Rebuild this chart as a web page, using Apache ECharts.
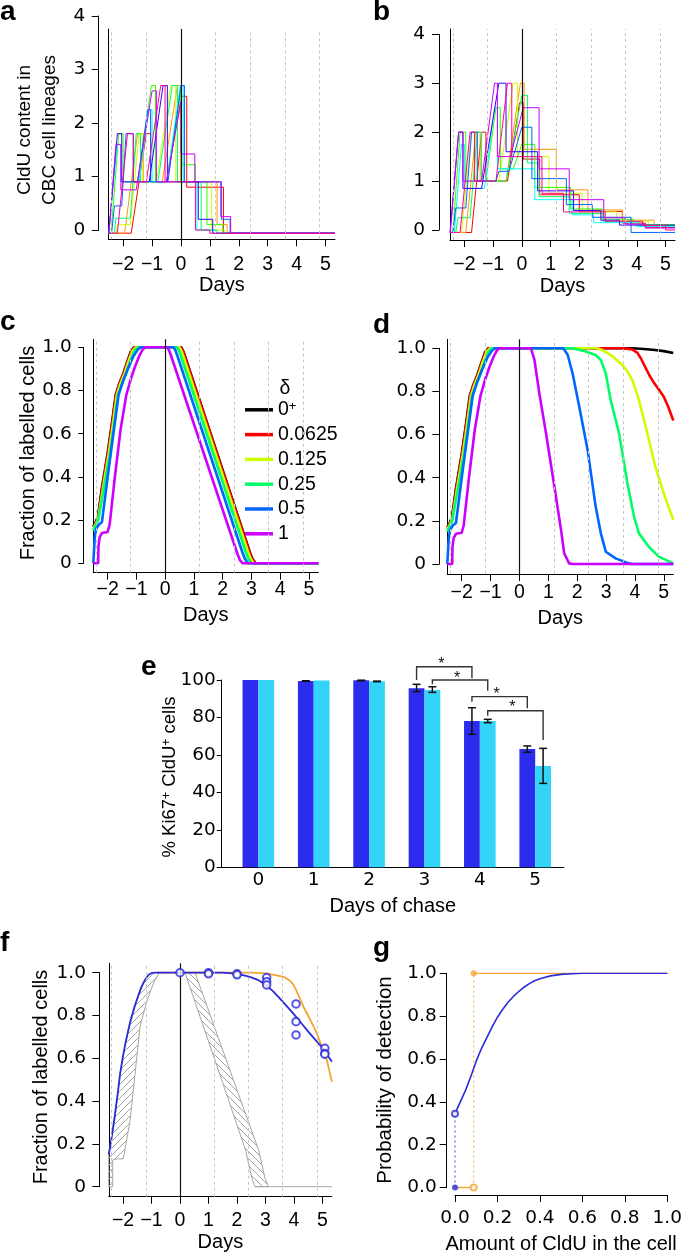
<!DOCTYPE html>
<html><head><meta charset="utf-8">
<script src="https://cdn.jsdelivr.net/npm/echarts@6/dist/echarts.min.js"></script>
<style>html,body{margin:0;padding:0;background:#fff}#chart{width:685px;height:1255px}</style>
</head><body><div id="chart"></div>
<script>
// ---------------- DATA ----------------
const rainbow10 = ["#FF0000","#FF9900","#CCFF00","#33FF00","#00FF66","#00FFFF","#0066FF","#3300FF","#CC00FF","#FF0099"];
const dayTicks = [-2,-1,0,1,2,3,4,5];
const dayTickLabels = ['\u22122','\u22121','0','1','2','3','4','5'];
const cycleLines = [-2.4,-1.2,1.2,2.4,3.6,4.8];
const cldTickLabels = ['0','1','2','3','4'];
const fracTickLabels = ['0','0.2','0.4','0.6','0.8','1.0'];
const probTickLabels = ['0.0','0.2','0.4','0.6','0.8','1.0'];

// panel a: CldU content in lineages (no retention)
const lineagesA = [
 [[-2.5,-0.06],[-1.72,-0.06],[-1.2,1.8],[-1.05,1.8],[-1.05,0.9],[-0.5,0.9],[0.02,2.5],[0.2,2.5],[0.2,0.8],[1.47,0.8],[1.47,-0.06],[5.33,-0.06]],
 [[-2.5,-0.06],[-1.95,-0.06],[-1.5,1.8],[-1.3,1.8],[-1.3,0.9],[-0.65,0.9],[-0.12,2.7],[-0.02,2.7],[-0.02,0.9],[1.25,0.9],[1.25,0.1],[1.6,0.1],[1.6,-0.06],[5.33,-0.06]],
 [[-2.5,-0.06],[-2.25,-0.06],[-2.2,0.1],[-1.75,0.1],[-1.45,1.8],[-1.32,1.8],[-1.32,0.9],[-0.85,0.9],[-0.35,2.7],[-0.18,2.7],[-0.18,0.9],[1.05,0.9],[1.05,0.0],[1.5,0.0],[1.5,-0.06],[5.33,-0.06]],
 [[-2.5,-0.06],[-2.42,-0.06],[-2.15,1.8],[-2.0,1.8],[-2.0,0.9],[-1.5,0.9],[-1.02,2.7],[-0.88,2.7],[-0.88,0.9],[-0.5,0.9],[0.0,2.6],[0.03,2.6],[0.03,1.22],[0.5,1.22],[0.5,0.9],[0.9,0.9],[0.9,0.1],[1.45,0.1],[1.45,-0.06],[5.33,-0.06]],
 [[-2.5,-0.06],[-2.3,-0.06],[-2.25,0.22],[-1.75,0.22],[-1.55,1.8],[-1.4,1.8],[-1.4,0.9],[-0.8,0.9],[-0.3,2.7],[-0.12,2.7],[-0.12,0.9],[0.7,0.9],[0.7,0.0],[1.25,0.0],[1.25,-0.06],[5.33,-0.06]],
 [[-2.5,-0.06],[-2.45,-0.06],[-2.2,1.6],[-2.08,1.6],[-2.08,0.9],[-1.45,0.9],[-1.12,2.25],[-1.0,2.25],[-1.0,0.9],[-0.5,0.9],[-0.02,2.7],[0.08,2.7],[0.08,0.9],[0.55,0.9],[0.55,0.0],[1.2,0.0],[1.2,-0.06],[5.33,-0.06]],
 [[-2.5,-0.06],[-2.4,-0.06],[-2.3,0.45],[-2.05,0.45],[-1.9,1.8],[-1.65,1.8],[-1.65,0.9],[-1.5,0.9],[-1.15,2.25],[-1.05,2.25],[-1.05,0.9],[-0.45,0.9],[0.0,2.7],[0.12,2.7],[0.12,0.9],[1.4,0.9],[1.4,0.2],[1.7,0.2],[1.7,-0.06],[5.33,-0.06]],
 [[-2.5,-0.06],[-2.46,-0.06],[-2.2,1.8],[-2.05,1.8],[-2.05,0.9],[-1.1,0.9],[-0.62,2.7],[-0.47,2.7],[-0.47,0.9],[0.6,0.9],[0.6,0.2],[1.1,0.2],[1.1,-0.06],[5.33,-0.06]],
 [[-2.5,-0.06],[-2.48,0.0],[-2.25,1.6],[-2.08,1.6],[-2.08,0.75],[-1.55,0.75],[-1.0,2.6],[-0.85,2.6],[-0.85,0.9],[-0.5,0.9],[0.0,2.4],[0.0,1.42],[0.48,1.42],[0.48,0.9],[1.38,0.9],[1.38,0.25],[1.72,0.25],[1.72,-0.06],[5.33,-0.06]],
 [[-2.5,-0.06],[-2.2,-0.06],[-1.85,1.8],[-1.65,1.8],[-1.65,0.9],[-1.2,0.9],[-0.7,2.7],[-0.55,2.7],[-0.55,0.9],[0.5,0.9],[0.5,0.0],[1.0,0.0],[1.0,-0.06],[5.33,-0.06]]
];
// panel b: CldU content in lineages (with retention)
const lineagesB = [
 [[-2.5,-0.05],[-1.75,-0.05],[-1.4,2.0],[-1.25,2.0],[-1.25,1.0],[-0.5,1.0],[-0.08,2.6],[0.05,2.6],[0.05,1.45],[0.62,1.45],[0.62,0.72],[2.0,0.72],[2.0,0.38],[3.5,0.38],[3.5,0.14],[4.3,0.14],[4.3,0.05],[5.33,0.05]],
 [[-2.5,-0.05],[-1.95,-0.05],[-1.6,2.0],[-1.45,2.0],[-1.45,1.0],[-0.55,1.0],[-0.05,3.0],[0.08,3.0],[0.08,1.65],[1.2,1.65],[1.2,0.82],[2.3,0.82],[2.3,0.41],[3.5,0.41],[3.5,0.2],[4.6,0.2],[4.6,0.1],[5.33,0.1]],
 [[-2.5,-0.05],[-2.1,-0.05],[-1.75,2.0],[-1.6,2.0],[-1.6,1.0],[-0.8,1.0],[-0.3,3.0],[-0.15,3.0],[-0.15,1.5],[0.95,1.5],[0.95,0.75],[2.1,0.75],[2.1,0.37],[3.3,0.37],[3.3,0.18],[4.4,0.18],[4.4,0.09],[5.33,0.09]],
 [[-2.5,-0.05],[-2.4,-0.05],[-2.15,2.0],[-1.95,2.0],[-1.95,1.0],[-1.25,1.0],[-0.9,2.5],[-0.75,2.5],[-0.75,1.25],[-0.3,1.25],[0.0,1.75],[0.45,1.75],[0.45,0.87],[1.7,0.87],[1.7,0.43],[2.8,0.43],[2.8,0.22],[3.9,0.22],[3.9,0.11],[5.33,0.11]],
 [[-2.5,-0.05],[-2.3,-0.05],[-2.22,0.25],[-1.8,0.25],[-1.55,2.0],[-1.4,2.0],[-1.4,1.0],[-0.55,1.0],[0.0,2.75],[0.2,2.75],[0.2,1.37],[0.6,1.37],[0.6,0.68],[1.65,0.68],[1.65,0.34],[2.85,0.34],[2.85,0.17],[4.1,0.17],[4.1,0.09],[5.33,0.09]],
 [[-2.5,-0.05],[-2.35,-0.05],[-2.1,1.75],[-2.0,1.75],[-2.0,0.85],[-1.3,0.85],[-0.95,2.5],[-0.85,2.5],[-0.85,1.25],[0.45,1.25],[0.45,0.62],[1.75,0.62],[1.75,0.31],[2.5,0.31],[2.5,0.15],[4.0,0.15],[4.0,0.07],[5.33,0.07]],
 [[-2.5,-0.05],[-2.4,-0.05],[-2.3,0.45],[-1.95,0.45],[-1.75,2.0],[-1.55,2.0],[-1.55,1.0],[-0.9,1.0],[-0.8,1.2],[-0.45,1.2],[0.0,2.1],[0.35,2.1],[0.35,1.05],[1.55,1.05],[1.55,0.52],[2.45,0.52],[2.45,0.26],[3.8,0.26],[3.8,-0.05],[5.33,-0.05]],
 [[-2.5,-0.05],[-2.45,-0.05],[-2.2,2.0],[-2.05,2.0],[-2.05,0.85],[-1.4,0.85],[-0.8,3.0],[-0.55,3.0],[-0.55,1.6],[0.55,1.6],[0.55,0.8],[1.8,0.8],[1.8,0.4],[2.75,0.4],[2.75,0.2],[3.4,0.2],[3.4,0.1],[5.33,0.1]],
 [[-2.5,-0.05],[-2.48,0.0],[-2.2,2.0],[-2.05,2.0],[-2.05,1.0],[-1.4,1.0],[-0.95,3.0],[-0.85,3.0],[-0.85,1.5],[-0.4,1.5],[0.05,2.5],[0.6,2.5],[0.6,1.25],[1.65,1.25],[1.65,0.62],[2.85,0.62],[2.85,0.25],[3.6,0.25],[3.6,0.12],[4.3,0.12],[4.3,0.04],[5.33,0.04]],
 [[-2.5,-0.05],[-2.15,-0.05],[-1.8,2.0],[-1.65,2.0],[-1.65,1.0],[-0.9,1.0],[-0.5,3.0],[-0.35,3.0],[-0.35,1.5],[0.7,1.5],[0.7,0.75],[1.45,0.75],[1.45,0.37],[2.9,0.37],[2.9,0.18],[4.2,0.18],[4.2,0.09],[5.0,0.09],[5.0,0.0],[5.33,0.0]]
];

// panels c & d: fraction of labelled cells for each delta
const deltaNames = ['0+','0.0625','0.125','0.25','0.5','1'];
const deltaColors = ['#000000','#FF0000','#CCFF00','#00FF66','#0066FF','#CC00FF'];
const riseBlack  = [[-2.5,0.17],[-2.42,0.19],[-2.34,0.215],[-2.2,0.35],[-2.0,0.51],[-1.85,0.65],[-1.72,0.78],[-1.6,0.83],[-1.45,0.88],[-1.3,0.94],[-1.18,0.985],[-1.08,1.0]];
const riseRed    = [[-2.5,0.168],[-2.41,0.188],[-2.33,0.213],[-2.19,0.35],[-1.99,0.51],[-1.84,0.65],[-1.71,0.78],[-1.59,0.83],[-1.44,0.88],[-1.29,0.94],[-1.17,0.985],[-1.07,1.0]];
const riseYellow = [[-2.5,0.16],[-2.42,0.18],[-2.32,0.21],[-2.16,0.35],[-1.96,0.51],[-1.81,0.65],[-1.68,0.78],[-1.56,0.83],[-1.41,0.88],[-1.26,0.94],[-1.13,0.985],[-1.02,1.0]];
const riseGreen  = [[-2.5,0.15],[-2.44,0.17],[-2.33,0.2],[-2.13,0.35],[-1.92,0.51],[-1.77,0.65],[-1.64,0.78],[-1.5,0.83],[-1.35,0.88],[-1.2,0.94],[-1.07,0.985],[-0.96,1.0]];
const riseBlue   = [[-2.5,0.0],[-2.46,0.0],[-2.45,0.12],[-2.4,0.16],[-2.3,0.18],[-2.2,0.19],[-2.0,0.4],[-1.8,0.6],[-1.62,0.78],[-1.45,0.85],[-1.3,0.9],[-1.1,0.96],[-0.95,0.99],[-0.85,1.0]];
const riseMagenta= [[-2.5,0.0],[-2.33,0.0],[-2.32,0.08],[-2.28,0.12],[-2.2,0.14],[-2.0,0.145],[-1.93,0.18],[-1.75,0.4],[-1.55,0.62],[-1.35,0.78],[-1.2,0.85],[-1.05,0.91],[-0.9,0.96],[-0.78,0.99],[-0.7,1.0]];
const fallBlackC  = [[0.56,1.0],[0.62,0.985],[0.7,0.955],[2.95,0.05],[3.04,0.02],[3.15,0.0],[5.33,0.0]];
const fallRedC    = [[0.55,1.0],[0.61,0.985],[0.69,0.955],[2.94,0.05],[3.03,0.02],[3.14,0.0],[5.33,0.0]];
const fallYellowC = [[0.5,1.0],[0.56,0.985],[0.64,0.955],[2.89,0.05],[2.98,0.02],[3.08,0.0],[5.33,0.0]];
const fallGreenC  = [[0.42,1.0],[0.48,0.985],[0.56,0.955],[2.81,0.05],[2.9,0.02],[3.0,0.0],[5.33,0.0]];
const fallBlueC   = [[0.3,1.0],[0.36,0.985],[0.44,0.955],[2.69,0.05],[2.78,0.02],[2.88,0.0],[5.33,0.0]];
const fallMagentaC= [[0.08,1.0],[0.14,0.985],[0.22,0.955],[2.5,0.05],[2.6,0.015],[2.7,0.0],[5.33,0.0]];
const fallBlackD  = [[3.9,1.0],[4.3,0.997],[4.7,0.992],[5.0,0.987],[5.33,0.978]];
const fallRedD    = [[3.6,1.0],[3.9,0.995],[4.08,0.98],[4.2,0.955],[4.37,0.91],[4.5,0.875],[4.66,0.84],[4.85,0.805],[5.0,0.775],[5.15,0.73],[5.33,0.665]];
const fallYellowD = [[2.7,1.0],[2.9,0.99],[3.2,0.965],[3.56,0.923],[3.75,0.89],[3.91,0.853],[4.02,0.81],[4.14,0.76],[4.43,0.606],[4.71,0.45],[5.0,0.328],[5.15,0.27],[5.33,0.205]];
const fallGreenD  = [[1.84,1.0],[2.3,0.985],[2.64,0.969],[2.82,0.946],[2.99,0.884],[3.16,0.76],[3.45,0.606],[3.74,0.374],[3.97,0.22],[4.14,0.142],[4.48,0.08],[4.83,0.034],[5.33,0.003]];
const fallBlueD   = [[1.52,1.0],[1.67,0.97],[1.84,0.884],[2.07,0.73],[2.36,0.53],[2.64,0.266],[2.82,0.142],[2.99,0.057],[3.33,0.026],[3.79,0.003],[3.9,0.0],[5.33,0.0]];
const fallMagentaD= [[0.4,1.0],[0.52,0.946],[0.69,0.79],[0.92,0.606],[1.21,0.359],[1.44,0.158],[1.55,0.05],[1.72,0.003],[1.85,0.0],[5.33,0.0]];

// panel e: % Ki67+ CldU+ cells
const chaseDays = [0,1,2,3,4,5];
const ki67Dark = [100,99.5,99.8,95.6,78.1,63.2];
const ki67Cyan = [100,99.7,99.3,94.7,78.1,54.1];
const ki67DarkErr = [null,[99.3,99.6],[99.6,99.9],[93.8,97.7],[71.0,85.2],[61.4,64.8]];
const ki67CyanErr = [null,null,[99.1,99.4],[93.4,96.4],[77.2,79.0],[44.8,63.5]];
// [leftDay, leftSide, leftBottom, rightDay, rightSide, rightBottom, top, starY]
const sigBrackets = [
 [3,-1,100.0,4,-1,100.9,107.1,110.3],
 [3, 1, 97.7,4, 1, 94.3,100.0,102.7],
 [4,-1, 88.4,5,-1, 84.9, 91.1, 94.3],
 [4, 1, 80.9,5, 1, 68.0, 83.6, 87.2]
];

// panel f: fit and observations
const fitBlue = [[-2.5,0.15],[-2.4,0.23],[-2.3,0.32],[-2.2,0.42],[-2.1,0.53],[-2.0,0.61],[-1.9,0.68],[-1.75,0.77],[-1.6,0.84],[-1.46,0.895],[-1.35,0.935],[-1.23,0.966],[-1.1,0.99],[-0.99,0.999],[-0.8,1.0],[1.5,1.0],[1.75,0.998],[2.0,0.993],[2.25,0.987],[2.5,0.978],[2.75,0.965],[3.0,0.945],[3.25,0.915],[3.5,0.88],[3.75,0.843],[4.0,0.805],[4.25,0.765],[4.5,0.725],[4.75,0.686],[5.0,0.648],[5.33,0.584]];
const fitOrange = [[-0.8,1.0],[2.5,1.0],[3.0,0.997],[3.3,0.99],[3.63,0.981],[3.8,0.968],[3.9,0.957],[3.98,0.943],[4.07,0.92],[4.15,0.895],[4.33,0.841],[4.55,0.785],[4.8,0.717],[5.0,0.645],[5.15,0.592],[5.33,0.49]];
const observed = [[0,1.0],[1,1.0],[1,0.995],[2,0.995],[2,0.99],[3.04,0.977],[3.04,0.958],[3.04,0.943],[4.07,0.854],[4.07,0.771],[4.07,0.709],[5.08,0.647],[5.08,0.623],[5.08,0.619]];
const bandRiseUpper = [[-2.5,0.15],[-2.3,0.3],[-2.1,0.53],[-1.9,0.68],[-1.75,0.76],[-1.6,0.83],[-1.46,0.89],[-1.23,0.966],[-1.1,0.99],[-0.99,1.0],[-0.72,1.0]];
const bandRiseLower = [[-2.5,0.0],[-2.36,0.0],[-2.36,0.125],[-2.22,0.13],[-1.99,0.13],[-1.75,0.31],[-1.4,0.75],[-1.2,0.85],[-1.05,0.91],[-0.9,0.96],[-0.72,1.0]];
const bandFallEarly = [[0.175,1.0],[1.46,0.5],[2.3,0.17],[2.42,0.1],[2.52,0.04],[2.63,0.0]];
const bandFallLate  = [[0.526,1.0],[1.87,0.5],[2.76,0.17],[2.88,0.1],[2.98,0.04],[3.1,0.0]];
const bandBaseline = [[2.63,0.0],[5.33,0.0]];

// panel g: probability of detection
const detectCurve = [[0,0.345],[0.025,0.40],[0.05,0.455],[0.075,0.52],[0.1,0.59],[0.125,0.65],[0.15,0.70],[0.175,0.75],[0.2,0.795],[0.225,0.832],[0.25,0.865],[0.275,0.892],[0.3,0.915],[0.325,0.935],[0.35,0.952],[0.375,0.965],[0.4,0.975],[0.45,0.988],[0.5,0.995],[0.55,0.998],[0.6,1.0],[1.0,1.0]];
const detectIntercept = 0.345;
const detectThreshold = 0.088;

// ---------------- STYLE / LAYOUT ----------------
const FONT = '"Liberation Sans", Arial, Helvetica, sans-serif';
const TICKFONT = '"DejaVu Sans", Verdana, sans-serif';
const FS = 20, TFS = 18.5;
const BLUE = '#2B2BD9', ORANGE = '#F4A534', DARKBAR = '#2C2CEE', CYANBAR = '#33D4F7';
const grid = [], xAxis = [], yAxis = [], series = [], graphic = [];
const titleStyle = {fontFamily: FONT, fontSize: FS, color: '#000'};
const tickStyle = {fontFamily: TICKFONT, fontSize: TFS, color: '#000'};
const dayStyle = {fontFamily: FONT, fontSize: 19.5, color: '#000'};
const blackLine = {show: true, onZero: false, lineStyle: {color: '#000', width: 1}};

function addPlotPanel(L) {
  const gi = grid.length;
  grid.push({left: L.l, top: L.t, width: L.r - L.l, height: L.b - L.t});
  const per = L.yMax / (L.y0 - L.yTop);
  xAxis.push({gridIndex: gi, type: 'value', min: -2.5, max: 5.33,
    axisLine: blackLine,
    axisTick: {show: true, customValues: dayTicks, length: 7, lineStyle: {color: '#000', width: 1}},
    axisLabel: Object.assign({show: true, customValues: dayTicks, margin: L.lm,
      formatter: v => dayTickLabels[dayTicks.indexOf(Math.round(v))]}, dayStyle),
    splitLine: {show: false},
    name: 'Days', nameLocation: 'middle', nameGap: L.ng, nameTextStyle: titleStyle});
  yAxis.push({gridIndex: gi, type: 'value', min: -(L.b - L.y0) * per, max: (L.y0 - L.t) * per,
    axisLine: blackLine, axisTick: {show: false}, axisLabel: {show: false}, splitLine: {show: false}});
  const ai = grid.length;
  grid.push({left: L.ax, top: L.yTop, width: 1, height: L.y0 - L.yTop});
  xAxis.push({gridIndex: ai, type: 'value', show: false, min: 0, max: 1});
  yAxis.push({gridIndex: ai, type: 'value', min: 0, max: L.yMax, interval: L.yInt,
    axisLine: blackLine,
    axisTick: {show: true, length: L.tl || 7, lineStyle: {color: '#000', width: 1}},
    axisLabel: Object.assign({margin: L.ylm, formatter: L.yFmt}, tickStyle),
    splitLine: {show: false}});
  series.push({type: 'line', xAxisIndex: gi, yAxisIndex: gi, data: [[0, 0]], symbol: 'none',
    lineStyle: {opacity: 0}, silent: true, z: 1,
    markLine: {silent: true, symbol: ['none', 'none'], label: {show: false}, emphasis: {disabled: true},
      data: cycleLines.map(v => ({xAxis: v, lineStyle: {type: [3, 3], color: '#c6c6c6', width: 1}}))
        .concat([{xAxis: 0, lineStyle: {type: 'solid', color: '#111', width: 1.2}}])}});
  return gi;
}
function line(gi, data, color, width, extra) {
  return Object.assign({type: 'line', xAxisIndex: gi, yAxisIndex: gi, data: data, symbol: 'none',
    showSymbol: false, silent: true, z: 3, lineStyle: {color: color, width: width}, itemStyle: {color: color}}, extra || {});
}
const cldFmt = v => cldTickLabels[Math.round(v)];
const fracFmt = v => fracTickLabels[Math.round(v * 5)];

// ---- a ----
const gA = addPlotPanel({l: 108.7, r: 335, t: 29, b: 239.3, ax: 98.7, yTop: 16, y0: 230, yMax: 4, yInt: 1, yFmt: cldFmt, ylm: 13.5, lm: 15.7, ng: 33});
lineagesA.forEach((d, i) => series.push(line(gA, d, rainbow10[i], 1, {name: 'a' + i})));
// ---- b ----
const gB = addPlotPanel({l: 450, r: 675, t: 29, b: 240, ax: 439, yTop: 34.3, y0: 230, yMax: 4, yInt: 1, yFmt: cldFmt, ylm: 14, lm: 15, ng: 36});
lineagesB.forEach((d, i) => series.push(line(gB, d, rainbow10[i], 1, {name: 'b' + i})));
// ---- c ----
const rises = [riseBlack, riseRed, riseYellow, riseGreen, riseBlue, riseMagenta];
const fallsC = [fallBlackC, fallRedC, fallYellowC, fallGreenC, fallBlueC, fallMagentaC];
const fallsD = [fallBlackD, fallRedD, fallYellowD, fallGreenD, fallBlueD, fallMagentaD];
const gC = addPlotPanel({l: 93.3, r: 318.3, t: 339.3, b: 572.7, ax: 83.3, yTop: 347.3, y0: 563.3, yMax: 1, yInt: 0.2, yFmt: fracFmt, ylm: 11.6, tl: 5, lm: 7, ng: 33});
rises.forEach((r, i) => series.push(line(gC, r.concat(fallsC[i]), deltaColors[i], 2.6, {name: deltaNames[i]})));
// ---- d ----
const gD = addPlotPanel({l: 447.3, r: 673.3, t: 339.3, b: 574, ax: 439.3, yTop: 348.3, y0: 564, yMax: 1, yInt: 0.2, yFmt: fracFmt, ylm: 13.3, lm: 8.7, ng: 34.3});
rises.forEach((r, i) => series.push(line(gD, r.concat(fallsD[i]), deltaColors[i], 2.6, {name: 'd' + deltaNames[i]})));

// ---- e ----
const gE = grid.length;
grid.push({left: 221.7, top: 680, width: 342.3, height: 187.3});
xAxis.push({gridIndex: gE, type: 'value', min: -0.662, max: 5.52, axisLine: blackLine, axisTick: {show: false},
  axisLabel: Object.assign({customValues: chaseDays, margin: 3, formatter: v => String(Math.round(v))}, tickStyle),
  splitLine: {show: false}, name: 'Days of chase', nameLocation: 'middle', nameGap: 29, nameTextStyle: titleStyle});
yAxis.push({gridIndex: gE, type: 'value', min: 0, max: 100, interval: 20, axisLine: blackLine,
  axisTick: {show: true, length: 5, lineStyle: {color: '#000'}},
  axisLabel: Object.assign({margin: 6}, tickStyle), splitLine: {show: false}});
const BAR_W = 15.8;
series.push({type: 'bar', name: 'eDark', xAxisIndex: gE, yAxisIndex: gE, data: chaseDays.map((d, i) => [d, ki67Dark[i]]),
  barWidth: BAR_W, barGap: '0%', itemStyle: {color: DARKBAR}, silent: true, z: 2});
series.push({type: 'bar', name: 'eCyan', xAxisIndex: gE, yAxisIndex: gE, data: chaseDays.map((d, i) => [d, ki67Cyan[i]]),
  barWidth: BAR_W, barGap: '0%', itemStyle: {color: CYANBAR}, silent: true, z: 2});
const errRows = [];
chaseDays.forEach((d, i) => {
  if (ki67DarkErr[i]) errRows.push([d, ki67DarkErr[i][0], ki67DarkErr[i][1], -1]);
  if (ki67CyanErr[i]) errRows.push([d, ki67CyanErr[i][0], ki67CyanErr[i][1], 1]);
});
series.push({type: 'custom', xAxisIndex: gE, yAxisIndex: gE, data: errRows, silent: true, z: 4, clip: false,
  encode: {x: 0, y: [1, 2]},
  renderItem: (params, api) => {
    const lo = api.coord([api.value(0), api.value(1)]), hi = api.coord([api.value(0), api.value(2)]);
    const x = lo[0] + api.value(3) * BAR_W / 2, c = 4;
    const st = {stroke: '#111', lineWidth: 1.5};
    return {type: 'group', children: [
      {type: 'line', shape: {x1: x, y1: lo[1], x2: x, y2: hi[1]}, style: st},
      {type: 'line', shape: {x1: x - c, y1: lo[1], x2: x + c, y2: lo[1]}, style: st},
      {type: 'line', shape: {x1: x - c, y1: hi[1], x2: x + c, y2: hi[1]}, style: st}]};
  }});
series.push({type: 'custom', xAxisIndex: gE, yAxisIndex: gE, data: sigBrackets, silent: true, z: 4, clip: false,
  encode: {x: 0, y: 6},
  renderItem: (params, api) => {
    const v = i => api.value(i);
    const lb = api.coord([v(0), v(2)]), rb = api.coord([v(3), v(5)]), top = api.coord([v(0), v(6)])[1];
    const star = api.coord([v(0), v(7)])[1];
    const xl = lb[0] + v(1) * BAR_W / 2, xr = rb[0] + v(4) * BAR_W / 2;
    return {type: 'group', children: [
      {type: 'polyline', shape: {points: [[xl, lb[1]], [xl, top], [xr, top], [xr, rb[1]]]}, style: {stroke: '#333', lineWidth: 1.4, fill: 'none'}},
      {type: 'text', x: (xl + xr) / 2 - 3, y: star + 4, style: {text: '*', fontFamily: FONT, fontSize: 16, fill: '#111', align: 'center', verticalAlign: 'middle'}}]};
  }});

// ---- f ----
function hatch(dir) {
  const c = document.createElement('canvas'), s = 7; c.width = s; c.height = s;
  const g = c.getContext('2d'); g.strokeStyle = '#a2a2a2'; g.lineWidth = 1; g.beginPath();
  if (dir > 0) { g.moveTo(0, s); g.lineTo(s, 0); g.moveTo(-1, 1); g.lineTo(1, -1); g.moveTo(s - 1, s + 1); g.lineTo(s + 1, s - 1); }
  else { g.moveTo(0, 0); g.lineTo(s, s); g.moveTo(-1, s - 1); g.lineTo(1, s + 1); g.moveTo(s - 1, -1); g.lineTo(s + 1, 1); }
  g.stroke(); return c;
}
const gF = addPlotPanel({l: 108.75, r: 331.95, t: 963.3, b: 1196.7, ax: 99.3, yTop: 972.7, y0: 1186.7, yMax: 1, yInt: 0.2, yFmt: fracFmt, ylm: 13.3, lm: 13.8, ng: 35.5});
function bandSeries(gi, upper, lower, pattern) {
  return {type: 'custom', xAxisIndex: gi, yAxisIndex: gi, data: [[0, 0]], silent: true, z: 2,
    renderItem: (params, api) => {
      const pts = upper.map(p => api.coord(p)).concat(lower.slice().reverse().map(p => api.coord(p)));
      return {type: 'polygon', shape: {points: pts}, style: {fill: {image: pattern, repeat: 'repeat'}, stroke: '#a6a6a6', lineWidth: 1}};
    }};
}
series.push(bandSeries(gF, bandRiseUpper, bandRiseLower, hatch(1)));
series.push(bandSeries(gF, bandFallLate, bandFallEarly, hatch(-1)));
series.push(line(gF, bandBaseline, '#aaaaaa', 1, {z: 2}));
series.push(line(gF, fitOrange, ORANGE, 1.8, {z: 3}));
series.push(line(gF, fitBlue, BLUE, 1.8, {z: 4}));
series.push({type: 'scatter', xAxisIndex: gF, yAxisIndex: gF, data: observed, symbol: 'emptyCircle', symbolSize: 7.5,
  itemStyle: {color: BLUE, borderColor: BLUE, borderWidth: 1.2}, silent: true, z: 5});

// ---- g ----
const gG = grid.length;
grid.push({left: 455, top: 973.3, width: 216.7, height: 216});
xAxis.push({gridIndex: gG, type: 'value', min: 0, max: 1, interval: 0.2, offset: 7.4, axisLine: blackLine,
  axisTick: {show: true, length: 7, lineStyle: {color: '#000'}},
  axisLabel: Object.assign({margin: 13.3, formatter: v => probTickLabels[Math.round(v * 5)]}, tickStyle),
  splitLine: {show: false}, name: 'Amount of CldU in the cell', nameLocation: 'middle', nameGap: 39, nameTextStyle: titleStyle});
yAxis.push({gridIndex: gG, type: 'value', min: 0, max: 1, interval: 0.2, offset: 8.3, axisLine: blackLine,
  axisTick: {show: true, length: 7, lineStyle: {color: '#000'}},
  axisLabel: Object.assign({margin: 10, formatter: v => probTickLabels[Math.round(v * 5)]}, tickStyle),
  splitLine: {show: false}});
series.push(line(gG, [[detectThreshold, 0], [detectThreshold, 1]], '#F6C67A', 1.3, {lineStyle: {color: '#F5BE6A', width: 1.3, type: [2, 3]}}));
series.push(line(gG, [[detectThreshold, 1], [1, 1]], ORANGE, 1.6));
series.push(line(gG, [[0, 0], [detectThreshold, 0]], ORANGE, 1.6));
series.push(line(gG, [[0, 0], [0, detectIntercept]], '#6E6EF0', 1.3, {lineStyle: {color: '#6E6EF0', width: 1.3, type: [2, 3]}}));
series.push(line(gG, detectCurve, BLUE, 1.6, {z: 4}));
series.push({type: 'scatter', xAxisIndex: gG, yAxisIndex: gG, data: [[detectThreshold, 1]], symbol: 'circle', symbolSize: 6, itemStyle: {color: ORANGE}, silent: true, z: 5});
series.push({type: 'scatter', xAxisIndex: gG, yAxisIndex: gG, data: [[detectThreshold, 0]], symbol: 'emptyCircle', symbolSize: 6, itemStyle: {color: ORANGE, borderColor: ORANGE, borderWidth: 1.2}, silent: true, z: 5});
series.push({type: 'scatter', xAxisIndex: gG, yAxisIndex: gG, data: [[0, 0]], symbol: 'circle', symbolSize: 6, itemStyle: {color: BLUE}, silent: true, z: 6});
series.push({type: 'scatter', xAxisIndex: gG, yAxisIndex: gG, data: [[0, detectIntercept]], symbol: 'emptyCircle', symbolSize: 6, itemStyle: {color: BLUE, borderColor: BLUE, borderWidth: 1.2}, silent: true, z: 6});

// ---- texts ----
function text(t, x, y, size, extra) {
  graphic.push(Object.assign({type: 'text', x: x, y: y, silent: true,
    style: Object.assign({text: t, fontFamily: FONT, fontSize: size, fill: '#000', align: 'center', verticalAlign: 'middle'}, (extra && extra.style) || {})},
    extra && extra.rotation ? {rotation: extra.rotation} : {}));
}
const letter = (t, x, y) => text(t, x, y, 28, {style: {fontWeight: 'bold', align: 'left'}});
letter('a', 0, 12); letter('b', 373, 12); letter('c', 0, 322); letter('d', 373, 325);
letter('e', 141, 667); letter('f', 0, 943); letter('g', 373, 948);
const ROT = Math.PI / 2;
text('CldU content in\nCBC cell lineages', 37.5, 130, 19, {rotation: ROT, style: {lineHeight: 25}});
text('Fraction of labelled cells', 28, 453, FS, {rotation: ROT});
text('Fraction of labelled cells', 41.7, 1077, FS, {rotation: ROT});
text('Probability of detection', 385, 1080, 20.5, {rotation: ROT});
text('% Ki67{sup|+} CldU{sup|+} cells', 170, 777, 18.5, {rotation: ROT,
  style: {rich: {sup: {fontFamily: FONT, fontSize: 12, lineHeight: 8, verticalAlign: 'top', fill: '#000'}}}});
text('\u03b4', 285, 389, 19.5);

const option = {
  animation: false, backgroundColor: '#fff', textStyle: {fontFamily: FONT},
  grid: grid, xAxis: xAxis, yAxis: yAxis, series: series, graphic: graphic,
  legend: {data: deltaNames.map(n => ({name: n, icon: 'rect'})), orient: 'vertical', left: 245, top: 399.8,
    itemWidth: 28, itemHeight: 3.5, itemGap: 4.8, selectedMode: false, padding: 0,
    formatter: n => n === '0+' ? '0{sup|+}' : n,
    textStyle: {fontFamily: FONT, fontSize: 19.5, color: '#000', lineHeight: 19,
      rich: {sup: {fontFamily: FONT, fontSize: 13, lineHeight: 8, verticalAlign: 'top', color: '#000'}}}}
};
const chart = echarts.init(document.getElementById('chart'), null, {renderer: 'canvas', width: 685, height: 1255});
chart.setOption(option);
</script></body></html>
